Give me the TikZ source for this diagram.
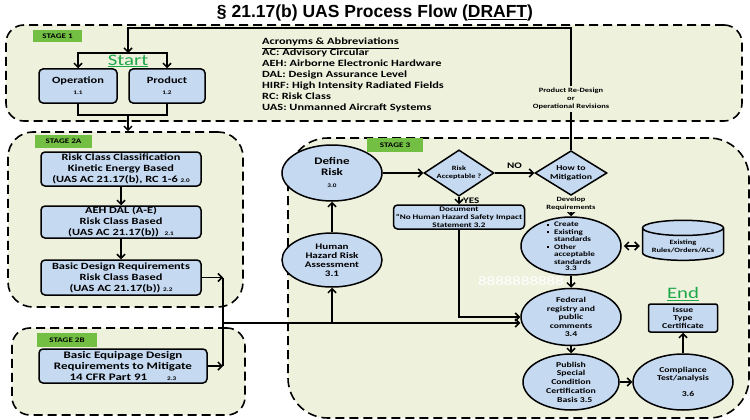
\documentclass[tikz,border=0pt]{standalone}
\usepackage{fontspec}
\setmainfont{Carlito}[FakeStretch=1.3]
\newfontfamily\titlefont{Liberation Sans}
\usetikzlibrary{shapes,arrows.meta,positioning,calc}

\definecolor{stagebg}{HTML}{EEF2DD}
\definecolor{boxblue}{HTML}{C5D9F1}
\definecolor{taggreen}{HTML}{72BF44}
\definecolor{startgreen}{HTML}{1EA84A}

\newcommand{\setsz}[2]{\fontsize{#1}{#2}\selectfont\bfseries}
\newcommand{\stepno}[1]{{\fontsize{5.5}{6}\selectfont #1}}

\begin{document}
\begin{tikzpicture}[x=1pt, y=-1pt,
  stageframe/.style={draw, dash pattern=on 9pt off 5pt, line width=1.6pt, fill=stagebg, rounded corners=#1, inner sep=0pt},
  stageframe/.default=18pt,
  stagetag/.style={fill=taggreen, inner sep=0pt, font=\setsz{7}{8}},
  procbox/.style={draw, line width=1.5pt, fill=boxblue, rounded corners=4pt, align=center, inner sep=0pt},
  procell/.style={ellipse, draw, line width=1.5pt, fill=boxblue, align=center, inner sep=-3pt},
  decision/.style={diamond, draw, line width=1.5pt, fill=boxblue, align=center, inner sep=-3pt},
  conn/.style={line width=1.5pt, -{Straight Barb[length=4pt,width=8pt]}},
  wire/.style={line width=1.5pt},
  note/.style={fill=stagebg, inner sep=1pt, align=center, font=\setsz{6.5}{8}}
]
\useasboundingbox (0,0) rectangle (750,420);

% Title
\node[font=\titlefont\bfseries\fontsize{17.5}{20}\selectfont] (title) at (375,13) {§ 21.17(b) UAS Process Flow (\underline{DRAFT})};

% Stage frames
\node[stageframe, minimum width=736pt, minimum height=96pt] (stage1) at (374,73) {};
\node[stageframe=25pt, minimum width=235pt, minimum height=175pt] (stage2a) at (125.5,219.5) {};
\node[stageframe, minimum width=233pt, minimum height=87pt] (stage2b) at (128.5,371.5) {};
\node[stageframe=40pt, minimum width=461pt, minimum height=280pt] (stage3) at (518.5,278) {};

\node[stagetag, minimum width=49pt, minimum height=12pt] (tag1) at (57.5,36) {STAGE 1};
\node[stagetag, minimum width=57pt, minimum height=13pt] (tag2a) at (63.5,141.5) {STAGE 2A};
\node[stagetag, minimum width=60pt, minimum height=14pt] (tag2b) at (67,340) {STAGE 2B};
\node[stagetag, minimum width=56pt, minimum height=14pt] (tag3) at (395,145) {STAGE 3};

% Stage 1
\node[text=startgreen, font=\fontsize{16}{16}\selectfont] (start) at (128,61) {\underline{Start}};
\node[procbox, minimum width=78pt, minimum height=34pt, font=\setsz{9.5}{10}] (op) at (78,86) {Operation\\[1pt]\stepno{1.1}};
\node[procbox, minimum width=76pt, minimum height=34pt, font=\setsz{9.5}{10}] (prod) at (167,86) {Product\\[1pt]\stepno{1.2}};

\node[anchor=north west, align=left, inner sep=0pt, font=\setsz{9.5}{11}] (acro) at (262,38) {\underline{Acronyms \& Abbreviations}\\
AC: Advisory Circular\\
AEH: Airborne Electronic Hardware\\
DAL: Design Assurance Level\\
HIRF: High Intensity Radiated Fields\\
RC: Risk Class\\
UAS: Unmanned Aircraft Systems};

% Stage 2A and 2B
\node[procbox, minimum width=160pt, minimum height=34pt, font=\setsz{9.5}{11}] (b20) at (121,169) {Risk Class Classification\\Kinetic Energy Based\\(UAS AC 21.17(b), RC 1-6 \stepno{2.0}};
\node[procbox, minimum width=160pt, minimum height=32pt, font=\setsz{9.5}{11}] (b21) at (121,222) {AEH DAL (A-E)\\Risk Class Based\\(UAS AC 21.17(b))\ \ \stepno{2.1}};
\node[procbox, minimum width=160pt, minimum height=35pt, font=\setsz{9.5}{11}] (b22) at (121,277.5) {Basic Design Requirements\\Risk Class Based\\(UAS AC 21.17(b))\ \stepno{2.2}};
\node[procbox, minimum width=168pt, minimum height=34pt, font=\setsz{10}{11}] (b23) at (123,366) {Basic Equipage Design\\Requirements to Mitigate\\14 CFR Part 91\qquad\stepno{2.3}};

% Stage 3
\node[text=white, font=\fontsize{13}{13}\selectfont] (ghost) at (521,281) {8888888888};

\node[procell, minimum width=100pt, minimum height=56pt, font=\setsz{10}{11}] (define) at (332,173) {Define\\Risk\\[1pt]\stepno{3.0}};
\node[procell, minimum width=100pt, minimum height=54pt, font=\setsz{8.5}{9}] (hazard) at (332,260) {Human\\Hazard Risk\\Assessment\\3.1};
\node[decision, minimum width=70pt, minimum height=38pt, font=\setsz{6.5}{8}] (risk) at (459,173) {Risk\\Acceptable ?};
\node[decision, minimum width=72pt, minimum height=39pt, font=\setsz{7.5}{8.5}] (mit) at (571,173) {How to\\Mitigation};
\node[procbox, minimum width=131pt, minimum height=24pt, font=\setsz{7}{8}] (doc) at (459,217) {Document\\``No Human Hazard Safety Impact\\Statement 3.2};
\node[procell, minimum width=100pt, minimum height=58pt, inner sep=-7pt, font=\setsz{7}{7.5}] (std) at (571,246)
  {\begin{tabular}{@{}l@{\hspace{5pt}}l@{}}
   \rule[1pt]{2pt}{2pt} & Create\\
   \rule[1pt]{2pt}{2pt} & Existing\\
    & standards\\
   \rule[1pt]{2pt}{2pt} & Other\\
    & acceptable\\
    & standards
   \end{tabular}\\[-2pt]3.3};
\node[cylinder, shape border rotate=90, aspect=0.22, draw, line width=1.5pt, fill=boxblue, minimum width=81pt, minimum height=34pt, align=center, font=\setsz{6.5}{8}] (rules) at (683,246) {Existing\\Rules/Orders/ACs};
\node[procell, minimum width=100pt, minimum height=57pt, font=\setsz{7.5}{8.5}] (fed) at (571,317) {Federal\\registry and\\public\\comments\\3.4};
\node[procell, minimum width=96pt, minimum height=56pt, font=\setsz{7.5}{8.7}] (pub) at (571,382) {Publish\\Special\\Condition\\Certification\\\quad Basis 3.5};
\node[procell, minimum width=100pt, minimum height=56pt, font=\setsz{7.5}{8}] (comp) at (683,382) {Compliance\\Test/analysis\\[8pt]\hspace*{10pt}3.6};
\node[procbox, minimum width=69pt, minimum height=28pt, rounded corners=2pt, font=\setsz{7.5}{8}] (issue) at (683,318) {Issue\\Type\\Certificate};
\node[text=startgreen, font=\fontsize{16}{16}\selectfont] (end) at (683,294) {\underline{End}};

% Connectors
\coordinate (split) at (128,53);
\coordinate (join) at (128,115);
\coordinate (merge) at (223,323);

\draw[conn] (mit.north) -- ++(0,-122) -| (split);
\draw[conn] (split) -| (op.north);
\draw[conn] (split) -| (prod.north);
\draw[wire] (op.south) |- (join);
\draw[wire] (prod.south) |- (join);
\draw[conn] (join) -- (join |- stage2a.north);

\foreach \a/\b in {b20/b21, b21/b22}
  \draw[conn] (\a) -- (\b);

\draw[conn] (b22.east) -- (b22.east -| merge);
\draw[wire] (b22.east -| merge) -- (b23.east -| merge);
\draw[conn] (b23.east) -- (b23.east -| merge);
\draw[conn] (merge) -- (merge -| fed.west);
\draw[conn] (merge -| hazard) -- (hazard.south);

\draw[conn] (hazard) -- (define);
\draw[conn] (define) -- (risk);
\draw[conn] (risk) -- node[above, font=\setsz{8.5}{9}] (nolbl) {NO} (mit);
\draw[conn] (risk) -- node[right, font=\setsz{8.5}{9}] (yeslbl) {YES} (doc);
\draw[conn] (doc.south) |- (fed.west);
\draw[conn] (mit) -- (std);
\draw[wire, {Straight Barb[length=4pt,width=8pt]}-{Straight Barb[length=4pt,width=8pt]}, shorten <=2pt, shorten >=2pt] (std) -- (rules);
\draw[conn] (std) -- (fed);
\draw[conn] (fed) -- (pub);
\draw[conn] (pub) -- (comp);
\draw[conn] (comp) -- (issue);

% Notes on the lines
\node[note, inner sep=2pt] (redesign) at (571,99) {Product Re-Design\\or\\Operational Revisions};
\node[note] (devreq) at (571,204) {Develop\\Requirements};

\end{tikzpicture}
\end{document}
